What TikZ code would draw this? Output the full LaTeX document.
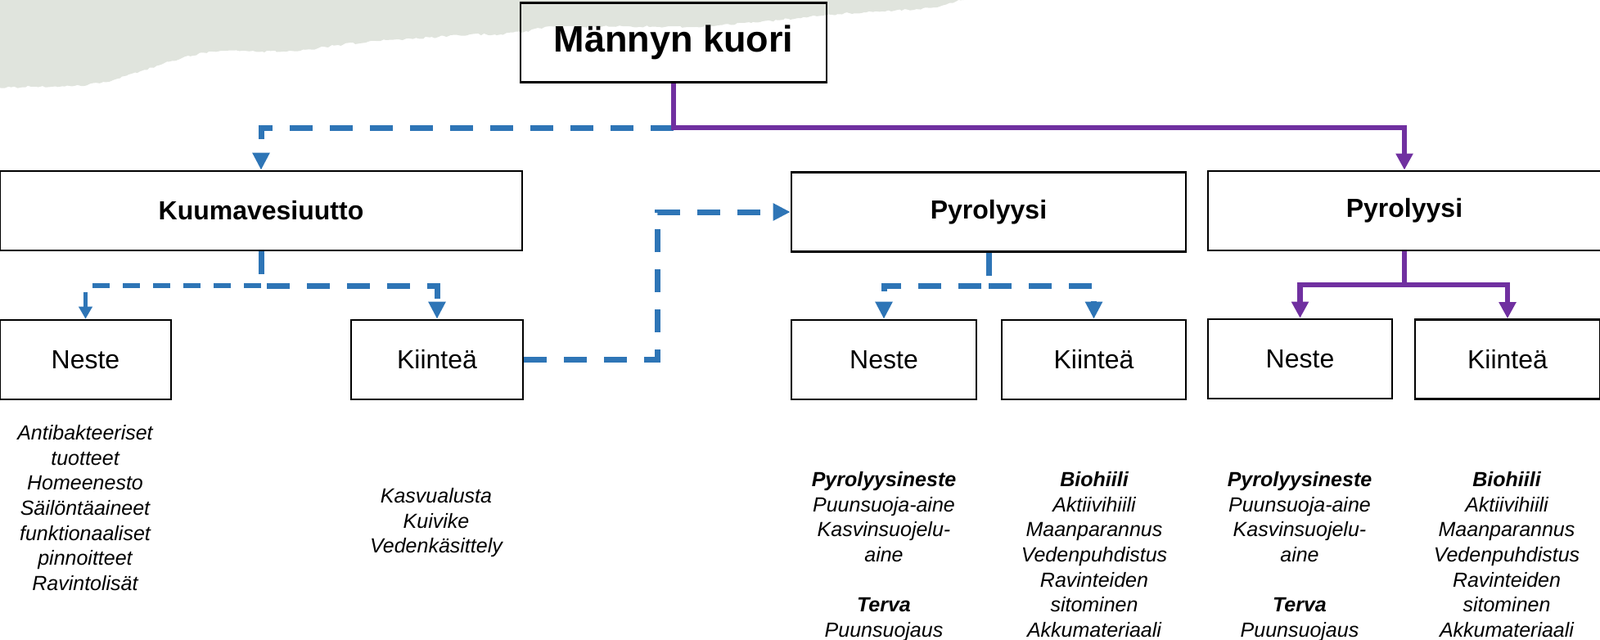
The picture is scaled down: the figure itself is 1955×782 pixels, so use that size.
\documentclass[tikz,border=0pt]{standalone}
\usepackage{fontspec}
\setmainfont{Liberation Sans}
\usetikzlibrary{arrows.meta,decorations.pathmorphing}
\definecolor{obl}{RGB}{46,117,182}
\definecolor{opu}{RGB}{112,48,160}
\definecolor{paper}{RGB}{224,228,221}
\begin{document}
\begin{tikzpicture}[x=1pt,y=-1pt,
 box/.style={draw=black,line width=2.6pt,minimum height=97pt,inner sep=0pt},
 hd/.style={font=\fontsize{32}{38}\selectfont\bfseries},
 lb/.style={font=\fontsize{32}{38}\selectfont},
 lst/.style={align=center,anchor=north,inner sep=0pt,font=\fontsize{25}{30.7}\selectfont\itshape},
 bdash/.style={draw=obl,line width=7pt,dash pattern=on 28pt off 21pt,-{Triangle[width=20pt,length=21pt]}},
 bthin/.style={draw=obl,line width=5.5pt,dash pattern=on 21pt off 16pt,-{Triangle[width=16pt,length=15pt]}},
 pline/.style={draw=opu,line width=6.5pt,-{Triangle[width=20pt,length=20pt]}}]
\useasboundingbox (0,0) rectangle (1955,782);
\fill[paper, decorate, decoration={random steps,segment length=4pt,amplitude=1.3pt}]
 (-20,-20) -- (1190,-20) -- (1178,0) -- (1171,0) -- (1148,8) -- (1110,12) -- (1056,15) -- (1010,18)
 -- (964,23) -- (918,28) -- (842,33) -- (765,32) -- (712,33) -- (673,32) -- (643,38) -- (612,42)
 -- (574,42) -- (536,45) -- (459,50) -- (413,55) -- (367,62) -- (321,63) -- (276,62) -- (260,63)
 -- (230,68) -- (199,78) -- (161,90) -- (138,98) -- (99,105) -- (38,106) -- (0,107) -- (-20,110) -- cycle;

\node[box,minimum width=374pt,font=\fontsize{45}{54}\selectfont\bfseries] (top) at (823,52) {Männyn kuori};
\node[box,hd,minimum width=638pt] (kuuma) at (319,257.5) {Kuumavesiuutto};
\node[box,hd,minimum width=482pt] (pyro1) at (1208,259) {Pyrolyysi};
\node[box,hd,minimum width=480pt] (pyro2) at (1716,257.5) {Pyrolyysi};
\node[box,lb,minimum width=209pt] (neste1) at (104.5,439.5) {Neste};
\node[box,lb,minimum width=210pt] (kiintea1) at (534,439.5) {Kiinteä};
\node[box,lb,minimum width=226pt] (neste2) at (1080,439.5) {Neste};
\node[box,lb,minimum width=225pt] (kiintea2) at (1336.5,439.5) {Kiinteä};
\node[box,lb,minimum width=225pt] (neste3) at (1588.5,438.5) {Neste};
\node[box,lb,minimum width=226pt] (kiintea3) at (1842,439) {Kiinteä};

\coordinate (j1) at (823,156);
\draw[bdash] (j1) -| (kuuma.north);
\draw[pline] (top.south) -- (j1) -| (pyro2.north);

\coordinate (k1) at (319,349);
\draw[bdash] (kuuma.south) -- (k1) -| (kiintea1.north);
\draw[bthin] (k1) -| (neste1.north);

\coordinate (c3) at (803,259);
\draw[bdash] (kiintea1.east) -| (c3) -- (pyro1.west);

\coordinate (k2) at (1208,349);
\draw[bdash] (pyro1.south) -- (k2) -| (neste2.north);
\draw[bdash] (k2) -| (kiintea2.north);

\coordinate (k3) at (1716,348);
\draw[pline] (pyro2.south) -- (k3) -| (neste3.north);
\draw[pline] (k3) -| (kiintea3.north);

\node[lst] (t1) at (104,519) {Antibakteeriset\\tuotteet\\Homeenesto\\Säilöntäaineet\\funktionaaliset\\pinnoitteet\\Ravintolisät};
\node[lst] (t2) at (533,596) {Kasvualusta\\Kuivike\\Vedenkäsittely};
\node[lst] (t3) at (1080,576) {\textbf{Pyrolyysineste}\\Puunsuoja-aine\\Kasvinsuojelu-\\aine\\[30.7pt]\textbf{Terva}\\Puunsuojaus};
\node[lst] (t4) at (1337,576) {\textbf{Biohiili}\\Aktiivihiili\\Maanparannus\\Vedenpuhdistus\\Ravinteiden\\sitominen\\Akkumateriaali};
\node[lst] (t5) at (1588,576) {\textbf{Pyrolyysineste}\\Puunsuoja-aine\\Kasvinsuojelu-\\aine\\[30.7pt]\textbf{Terva}\\Puunsuojaus};
\node[lst] (t6) at (1841,576) {\textbf{Biohiili}\\Aktiivihiili\\Maanparannus\\Vedenpuhdistus\\Ravinteiden\\sitominen\\Akkumateriaali};
\end{tikzpicture}
\end{document}
